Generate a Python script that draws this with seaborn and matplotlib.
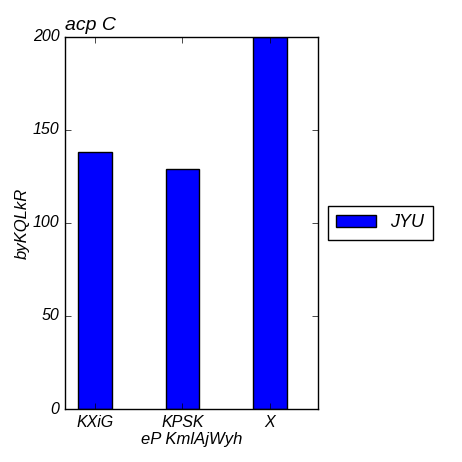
import pandas as pd
import seaborn as sns
import matplotlib.pyplot as plt

# Chart data
categories = ["KXiG", "KPSK", "X"]
values = [138, 129, 200]
series_name = "JYU"

df = pd.DataFrame({"category": categories, "value": values, "series": series_name})

plt.style.use("classic")
plt.rcParams["font.family"] = ["Liberation Sans", "DejaVu Sans"]
plt.rcParams["font.style"] = "italic"

fig = plt.figure(figsize=(4.62, 4.62), dpi=100)
fig.patch.set_facecolor("white")
ax = fig.add_axes([0.1407, 0.1147, 0.5476, 0.8053])

sns.barplot(
    data=df,
    x="category",
    y="value",
    hue="series",
    palette=["#0000ff"],
    edgecolor="black",
    linewidth=1,
    width=0.38,
    saturation=1,
    ax=ax,
)

ax.set_xlim(-0.343, 2.549)
ax.set_ylim(0, 200)
ax.set_yticks([0, 50, 100, 150, 200])
ax.tick_params(labelsize=11.5, direction="in", top=True, right=True)
ax.set_xlabel("eP KmlAjWyh", fontsize=12, labelpad=2)
ax.set_ylabel("byKQLkR", fontsize=12, labelpad=2)
ax.set_title("acp C", fontsize=14, loc="left", pad=5)

leg = ax.legend(
    loc="center left",
    bbox_to_anchor=(1.04, 0.5),
    borderaxespad=0,
    fontsize=13,
    frameon=True,
    fancybox=False,
    handlelength=2.2,
    borderpad=0.45,
)
leg.get_frame().set_edgecolor("black")

fig.savefig("out.png", dpi=100, facecolor="white")
